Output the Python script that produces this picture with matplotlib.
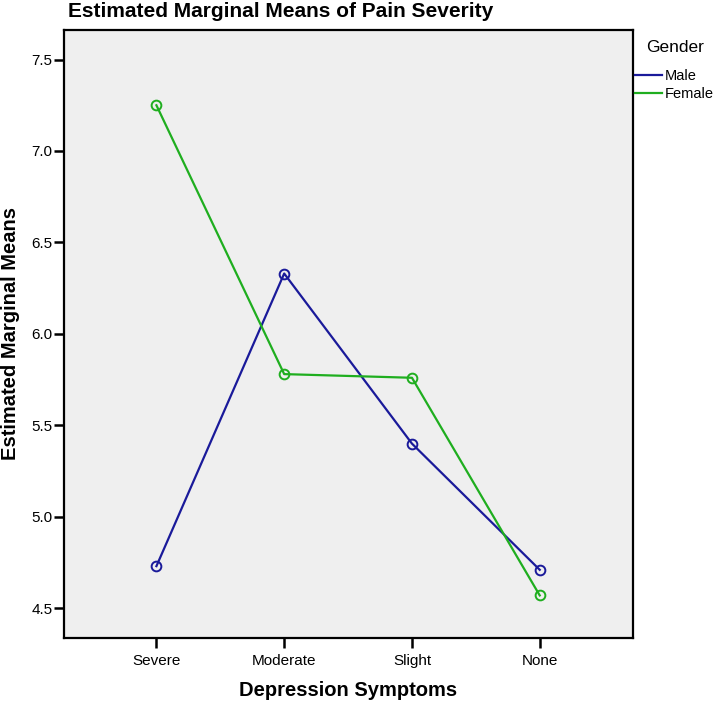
import matplotlib
matplotlib.use("Agg")
import matplotlib.pyplot as plt
from matplotlib.lines import Line2D

plt.rcParams['font.family'] = ['Liberation Sans', 'DejaVu Sans']

# data
categories = ["Severe", "Moderate", "Slight", "None"]
male = [4.73, 6.33, 5.40, 4.71]
female = [7.25, 5.78, 5.76, 4.57]
yticks = [4.5, 5.0, 5.5, 6.0, 6.5, 7.0, 7.5]
groups = ["Male", "Female"]

male_color = "#1a1a9a"
female_color = "#1fae1f"

fig = plt.figure(figsize=(7.14, 7.04), dpi=100)
ax = fig.add_axes([0.089, 0.094, 0.797, 0.864])
ax.set_facecolor("#efefef")

x = list(range(len(categories)))
ax.plot(x, male, color=male_color, lw=1.6, marker="o", ms=7,
        mfc="none", mec=male_color, mew=1.4)
ax.plot(x, female, color=female_color, lw=1.6, marker="o", ms=7,
        mfc="none", mec=female_color, mew=1.4)

ax.set_xlim(-0.727, 3.727)
ax.set_ylim(4.338, 7.664)
ax.set_xticks(x)
ax.set_xticklabels(categories, fontsize=11)
ax.set_yticks(yticks)
ax.set_yticklabels(["%.1f" % v for v in yticks], fontsize=11)
ax.tick_params(axis="both", direction="out", length=7, width=1.8, color="black")
ax.tick_params(axis="x", pad=5)
ax.tick_params(axis="y", pad=1)
for s in ax.spines.values():
    s.set_linewidth(1.6)

ax.set_xlabel("Depression Symptoms", fontsize=14.5, fontweight="bold", labelpad=9)
ax.set_ylabel("Estimated Marginal Means", fontsize=14.5, fontweight="bold", labelpad=8)
fig.text(0.095, 0.983, "Estimated Marginal Means of Pain Severity",
         fontsize=15, fontweight="bold", va="center", ha="left")

# legend on the right, outside the plot (lines only, no markers)
fig.text(675 / 714, 1 - 48 / 704, "Gender", fontsize=12.5, ha="center", va="center")
handles = [Line2D([], [], color=male_color, lw=1.6),
           Line2D([], [], color=female_color, lw=1.6)]
leg = fig.legend(handles, groups, loc="upper left",
                 bbox_to_anchor=(635 / 714, 1 - 69 / 704), frameon=False,
                 fontsize=10.5, handlelength=1.85, handletextpad=0.2,
                 labelspacing=0.3, borderpad=0, borderaxespad=0)

fig.savefig("out.png", dpi=100)
